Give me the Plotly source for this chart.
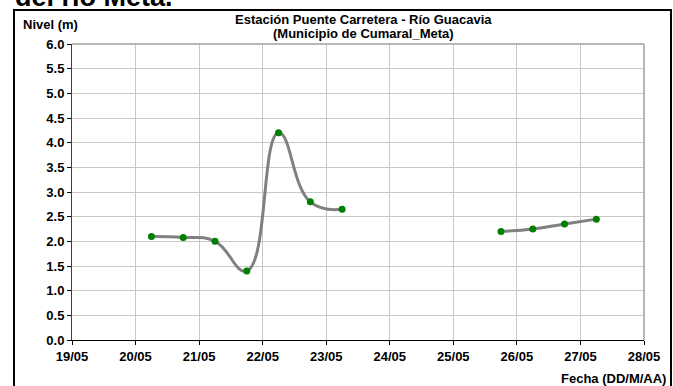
import plotly.graph_objects as go

# Data
fechas = ["2023-05-20 06:00", "2023-05-20 18:00", "2023-05-21 06:00", "2023-05-21 18:00",
          "2023-05-22 06:00", "2023-05-22 18:00", "2023-05-23 06:00",
          "2023-05-24 12:00",
          "2023-05-25 18:00", "2023-05-26 06:00", "2023-05-26 18:00", "2023-05-27 06:00"]
nivel = [2.10, 2.08, 2.00, 1.40, 4.20, 2.80, 2.65,
         None,
         2.20, 2.25, 2.35, 2.45]
y_ticks = [0.0, 0.5, 1.0, 1.5, 2.0, 2.5, 3.0, 3.5, 4.0, 4.5, 5.0, 5.5, 6.0]
x_ticks = ["2023-05-19", "2023-05-20", "2023-05-21", "2023-05-22", "2023-05-23",
           "2023-05-24", "2023-05-25", "2023-05-26", "2023-05-27", "2023-05-28"]
x_tick_labels = ["19/05", "20/05", "21/05", "22/05", "23/05",
                 "24/05", "25/05", "26/05", "27/05", "28/05"]

titulo1 = "Estación Puente Carretera - Río Guacavia"
titulo2 = "(Municipio de Cumaral_Meta)"

FONT = "Liberation Sans, Arial, sans-serif"

fig = go.Figure()
fig.add_trace(go.Scatter(
    x=fechas, y=nivel, mode="lines+markers",
    line=dict(color="#808080", width=3, shape="spline", smoothing=1.3),
    marker=dict(color="#008000", size=7),
    connectgaps=False, showlegend=False, hoverinfo="x+y"))

W, H = 673, 386
L, R, T, B = 72, 29, 44, 46
pw, ph = W - L - R, H - T - B

def px(x):
    return (x - L) / pw

def py(y):
    return (H - B - y) / ph

frame = dict(color="black", width=2)
fig.update_layout(
    width=W, height=H,
    margin=dict(l=L, r=R, t=T, b=B),
    paper_bgcolor="white", plot_bgcolor="white",
    font=dict(family=FONT, color="black"),
    xaxis=dict(
        type="date", range=[x_ticks[0], x_ticks[-1]],
        tickvals=x_ticks, ticktext=["<b>" + t + "</b>" for t in x_tick_labels],
        showgrid=True, gridcolor="#c8c8c8", gridwidth=1,
        showline=True, linecolor="black", linewidth=1, mirror=False,
        ticks="outside", ticklen=4, tickcolor="black",
        tickfont=dict(family=FONT, size=13, color="black"),
        zeroline=False,
    ),
    yaxis=dict(
        range=[0, 6], tickvals=y_ticks,
        ticktext=[f"<b>{v:.1f}</b>" for v in y_ticks],
        showgrid=True, gridcolor="#c8c8c8", gridwidth=1,
        showline=True, linecolor="#404040", linewidth=1,
        ticks="outside", ticklen=4, tickcolor="black",
        tickfont=dict(family=FONT, size=13, color="black"),
        zeroline=False,
    ),
    shapes=[
        dict(type="line", xref="paper", yref="paper", x0=0, x1=1, y0=1, y1=1,
             line=dict(color="#a0a0a0", width=1.5)),
        dict(type="line", xref="paper", yref="paper", x0=1, x1=1, y0=0, y1=1,
             line=dict(color="#a0a0a0", width=1.5)),
        dict(type="line", xref="paper", yref="paper",
             x0=px(14), x1=px(14), y0=py(9), y1=py(390), line=frame),
        dict(type="line", xref="paper", yref="paper",
             x0=px(671), x1=px(671), y0=py(9), y1=py(390), line=frame),
        dict(type="line", xref="paper", yref="paper",
             x0=px(13), x1=px(672), y0=py(10), y1=py(10), line=frame),
    ],
    annotations=[
        dict(text="<b>" + titulo1 + "</b>", xref="paper", yref="paper",
             x=px(363), y=py(19), xanchor="center", yanchor="middle",
             showarrow=False, font=dict(size=13, family=FONT)),
        dict(text="<b>" + titulo2 + "</b>", xref="paper", yref="paper",
             x=px(363), y=py(33), xanchor="center", yanchor="middle",
             showarrow=False, font=dict(size=13, family=FONT)),
        dict(text="<b>Nivel (m)</b>", xref="paper", yref="paper",
             x=px(21), y=py(24), xanchor="left", yanchor="middle",
             showarrow=False, font=dict(size=13, family=FONT)),
        dict(text="<b>Fecha (DD/M/AA)</b>", xref="paper", yref="paper",
             x=px(668), y=py(378), xanchor="right", yanchor="middle",
             showarrow=False, font=dict(size=13, family=FONT)),
        dict(text="<b>del río Meta.</b>", xref="paper", yref="paper",
             x=px(13), y=py(14), xanchor="left", yanchor="bottom",
             showarrow=False, font=dict(size=27, family=FONT)),
    ],
)

fig.write_html("out.html", config={"displayModeBar": False},
               post_script="document.body.style.margin='0';document.body.style.overflow='hidden';")
